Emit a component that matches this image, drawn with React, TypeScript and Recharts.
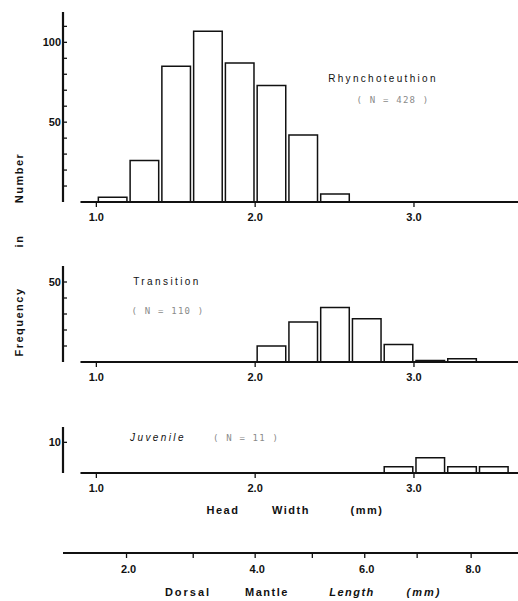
import React from 'react'
import { BarChart, Bar, XAxis, YAxis, ReferenceLine } from 'recharts'

// head width bins (mm, lower edge) and counts per stage
const rhynchoBins = [1.0, 1.2, 1.4, 1.6, 1.8, 2.0, 2.2, 2.4]
const rhynchoCounts = [3, 26, 85, 107, 87, 73, 42, 5]

const transitionBins = [2.0, 2.2, 2.4, 2.6, 2.8, 3.0, 3.2]
const transitionCounts = [10, 25, 34, 27, 11, 1, 2]

const juvenileBins = [2.8, 3.0, 3.2, 3.4]
const juvenileCounts = [2, 5, 2, 2]

const hwTicks = [1.0, 2.0, 3.0]

// dorsal mantle length scale, placed against head width
const dmlValues = [2, 3, 4, 5, 6, 7, 8]
const dmlAtHw = [1.19, 1.61, 2.0, 2.36, 2.69, 3.02, 3.36]

const BIN = 0.2
const X_MIN = 0.79
const X_MAX = 3.655
const W = 518
const Y_AXIS_W = 63
const PX_PER_UNIT = (W - Y_AXIS_W) / (X_MAX - X_MIN)
const FONT = '"Liberation Sans", Arial, sans-serif'

const toRows = (bins: number[], counts: number[]) =>
  bins.map((b, i) => ({ mid: b + BIN / 2, n: counts[i] }))

function YTick({ x, y, payload, labels }: any) {
  const show = labels.includes(payload.value)
  return (
    <g>
      <line x1={x} x2={x + 4} y1={y} y2={y} stroke="#111" strokeWidth={1.3} />
      {show && (
        <text x={x - 2} y={y} textAnchor="end" dominantBaseline="central"
          fontFamily={FONT} fontWeight="bold" fontSize={11} fill="#111">
          {payload.value}
        </text>
      )}
    </g>
  )
}

function XTick({ x, y, payload }: any) {
  return (
    <g>
      <line x1={x} x2={x} y1={y} y2={y + 5} stroke="#111" strokeWidth={1.3} />
      <text x={x} y={y + 15} textAnchor="middle" dominantBaseline="central"
        fontFamily={FONT} fontWeight="bold" fontSize={11} fill="#111">
        {payload.value.toFixed(1)}
      </text>
    </g>
  )
}

function DmlTick({ x, y, payload }: any) {
  const i = dmlAtHw.indexOf(payload.value)
  const v = dmlValues[i]
  return (
    <g>
      <line x1={x} x2={x} y1={y} y2={y + 5} stroke="#111" strokeWidth={1.3} />
      {v % 2 === 0 && (
        <text x={x + 2} y={y + 16} textAnchor="middle" dominantBaseline="central"
          fontFamily={FONT} fontWeight="bold" fontSize={11} fill="#111">
          {v.toFixed(1)}
        </text>
      )}
    </g>
  )
}

function Panel({ rows, yMax, yTicks, yLabels, top, height, marginTop, dml }: any) {
  return (
    <div style={{ position: 'absolute', left: 0, top }}>
      <BarChart width={W} height={height} data={rows}
        margin={{ top: marginTop, right: 0, bottom: 0, left: 0 }}>
        <XAxis xAxisId={0} type="number" dataKey="mid" domain={[X_MIN, X_MAX]}
          allowDataOverflow ticks={hwTicks} interval={0} axisLine={false}
          tickLine={false} tickSize={0} tickMargin={0} height={dml ? 80 : 28}
          tick={<XTick />} />
        {dml && (
          <XAxis xAxisId="dml" type="number" dataKey="mid" domain={[X_MIN, X_MAX]}
            allowDataOverflow ticks={dmlAtHw} interval={0} height={48}
            axisLine={{ stroke: '#111', strokeWidth: 2.2 }} tickLine={false}
            tickSize={0} tickMargin={0} tick={<DmlTick />} />
        )}
        <YAxis type="number" domain={[0, yMax]} allowDataOverflow ticks={yTicks}
          interval={0} width={Y_AXIS_W} axisLine={{ stroke: '#111', strokeWidth: 2.2 }}
          tickLine={false} tickSize={0} tickMargin={0}
          tick={<YTick labels={yLabels} />} />
        <Bar xAxisId={0} dataKey="n" fill="#fff" stroke="#111" strokeWidth={1.5}
          barSize={BIN * PX_PER_UNIT} isAnimationActive={false} />
        <ReferenceLine xAxisId={0} ifOverflow="visible"
          segment={[{ x: 0.9, y: 0 }, { x: 3.8, y: 0 }]}
          stroke="#111" strokeWidth={2.2} />
      </BarChart>
    </div>
  )
}

const txt = (s: React.CSSProperties): React.CSSProperties => ({
  position: 'absolute', transform: 'translate(-50%, -50%)', whiteSpace: 'nowrap',
  fontFamily: FONT, color: '#111', lineHeight: 1, ...s,
})

const note = { fontFamily: '"DejaVu Sans Mono", monospace', fontSize: 9, color: '#8a8a8a', letterSpacing: 1.2 }
const bold = { fontWeight: 'bold', fontSize: 11, letterSpacing: 1.5 }

export default function App() {
  return (
    <div style={{ position: 'absolute', left: 0, top: 0, width: W, height: 601, overflow: 'hidden', background: '#fff' }}>
      <Panel rows={toRows(rhynchoBins, rhynchoCounts)} yMax={119}
        yTicks={[10, 20, 30, 40, 50, 60, 70, 80, 90, 100, 110]} yLabels={[50, 100]}
        top={0} height={230} marginTop={12} />
      <Panel rows={toRows(transitionBins, transitionCounts)} yMax={60}
        yTicks={[10, 20, 30, 40, 50]} yLabels={[50]}
        top={240} height={150} marginTop={26} />
      <Panel rows={toRows(juvenileBins, juvenileCounts)} yMax={15}
        yTicks={[10]} yLabels={[10]}
        top={400} height={201} marginTop={27} dml />

      <div style={txt({ left: 383, top: 79, fontSize: 10, letterSpacing: 2.3 })}>Rhynchoteuthion</div>
      <div style={txt({ left: 393, top: 100, ...note })}>( N = 428 )</div>
      <div style={txt({ left: 167, top: 282, fontSize: 10, letterSpacing: 2.4 })}>Transition</div>
      <div style={txt({ left: 168, top: 311, ...note })}>( N = 110 )</div>
      <div style={txt({ left: 158, top: 438, fontSize: 10, letterSpacing: 2.4, fontStyle: 'italic' })}>Juvenile</div>
      <div style={txt({ left: 246, top: 438, ...note })}>( N = 11 )</div>

      <div style={txt({ left: 223, top: 510, ...bold })}>Head</div>
      <div style={txt({ left: 291, top: 510, ...bold })}>Width</div>
      <div style={txt({ left: 367, top: 510, ...bold })}>(mm)</div>

      <div style={txt({ left: 188, top: 592, ...bold, letterSpacing: 2 })}>Dorsal</div>
      <div style={txt({ left: 267, top: 592, ...bold })}>Mantle</div>
      <div style={txt({ left: 352, top: 592, ...bold, fontStyle: 'italic' })}>Length</div>
      <div style={txt({ left: 424, top: 592, ...bold, fontStyle: 'italic', letterSpacing: 2 })}>(mm)</div>

      <div style={txt({ left: 19, top: 178, ...bold, transform: 'translate(-50%, -50%) rotate(-90deg)' })}>Number</div>
      <div style={txt({ left: 19, top: 241, ...bold, transform: 'translate(-50%, -50%) rotate(-90deg)' })}>in</div>
      <div style={txt({ left: 19, top: 322, ...bold, transform: 'translate(-50%, -50%) rotate(-90deg)' })}>Frequency</div>
    </div>
  )
}
